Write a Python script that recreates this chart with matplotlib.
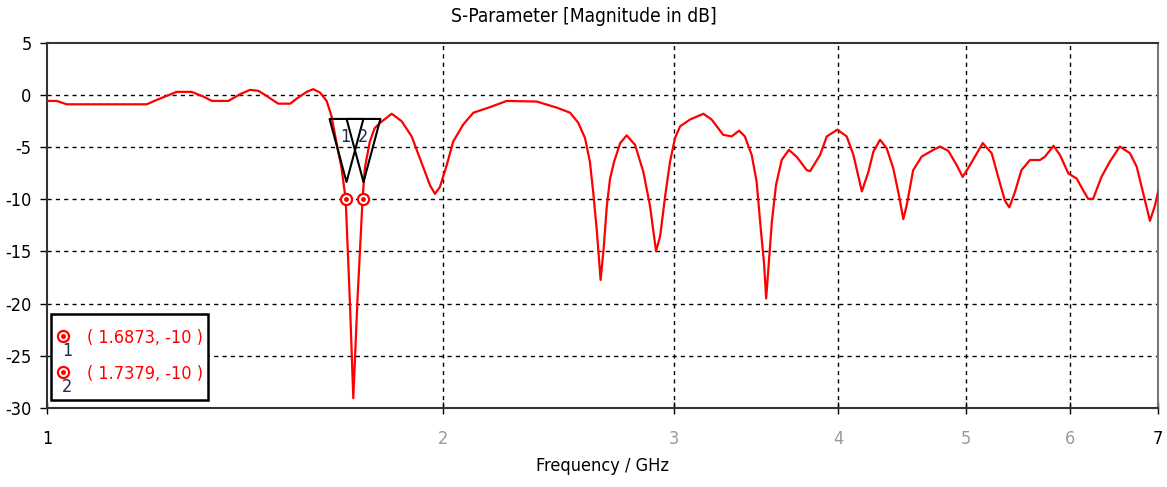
import matplotlib
matplotlib.use("Agg")
import matplotlib.pyplot as plt
from matplotlib.path import Path
from matplotlib.patches import Rectangle
from matplotlib.ticker import FixedLocator, NullLocator

## S11 magnitude vs frequency (GHz, dB)
freq = [1.000, 1.017, 1.035, 1.191, 1.212, 1.233, 1.255, 1.288, 1.315, 1.335,
        1.374, 1.402, 1.427, 1.448, 1.469, 1.499, 1.531, 1.549, 1.576, 1.594,
        1.613, 1.632, 1.646, 1.660, 1.675, 1.6873, 1.700, 1.710, 1.722, 1.7379,
        1.745, 1.760, 1.775, 1.792, 1.829, 1.861, 1.894, 1.928, 1.956, 1.973,
        1.990, 2.014, 2.037, 2.073, 2.110, 2.173, 2.237, 2.358, 2.442, 2.500,
        2.536, 2.566, 2.588, 2.603, 2.619, 2.637, 2.652, 2.666, 2.681, 2.700,
        2.729, 2.760, 2.801, 2.842, 2.875, 2.906, 2.927, 2.953, 2.978, 3.004,
        3.031, 3.084, 3.157, 3.203, 3.268, 3.317, 3.361, 3.395, 3.436, 3.466,
        3.491, 3.511, 3.524, 3.540, 3.559, 3.585, 3.621, 3.667, 3.717, 3.784,
        3.806, 3.873, 3.919, 3.992, 4.058, 4.106, 4.167, 4.215, 4.252, 4.302,
        4.352, 4.403, 4.447, 4.481, 4.507, 4.559, 4.627, 4.723, 4.778, 4.849,
        4.920, 4.972, 5.036, 5.150, 5.231, 5.291, 5.353, 5.395, 5.448, 5.511,
        5.594, 5.693, 5.743, 5.829, 5.896, 5.983, 6.071, 6.141, 6.194, 6.248,
        6.340, 6.433, 6.547, 6.664, 6.744, 6.822, 6.902, 6.963, 7.000]
s11 = [-0.58, -0.58, -0.90, -0.90, -0.48, -0.10, 0.29, 0.29, -0.16, -0.58,
       -0.58, 0.06, 0.48, 0.39, -0.10, -0.84, -0.84, -0.35, 0.29, 0.55,
       0.23, -0.58, -2.04, -4.5, -7.0, -10.0, -20.0, -29.06, -20.0, -10.0,
       -7.0, -4.5, -3.2, -2.68, -1.81, -2.52, -3.98, -6.56, -8.67, -9.48,
       -8.83, -6.73, -4.47, -2.84, -1.71, -1.17, -0.58, -0.64, -1.22, -1.71,
       -2.68, -4.14, -6.41, -9.32, -12.87, -17.73, -14.5, -10.61, -8.02, -6.41,
       -4.62, -3.88, -4.79, -7.38, -10.61, -14.98, -13.52, -9.64, -6.41, -4.14,
       -3.01, -2.36, -1.81, -2.36, -3.82, -3.98, -3.43, -3.98, -5.76, -8.35,
       -12.87, -16.12, -19.51, -16.12, -12.23, -8.67, -6.24, -5.27, -5.92, -7.21,
       -7.31, -5.76, -3.98, -3.33, -3.98, -5.76, -9.25, -7.38, -5.44, -4.30,
       -5.11, -7.05, -9.64, -11.9, -10.61, -7.21, -5.92, -5.27, -4.95, -5.37,
       -6.73, -7.86, -6.73, -4.62, -5.59, -7.86, -10.12, -10.78, -9.32, -7.21,
       -6.24, -6.24, -5.92, -4.88, -5.76, -7.53, -8.02, -9.16, -9.96, -9.96,
       -7.86, -6.41, -4.95, -5.59, -6.89, -9.48, -12.07, -10.61, -9.32]

## markers at the -10 dB crossings
mk_freq = [1.6873, 1.7379]
mk_val = [-10, -10]

xticks = [1, 2, 3, 4, 5, 6, 7]
yticks = [5, 0, -5, -10, -15, -20, -25, -30]

txt = dict(family='DejaVu Sans', fontstretch='condensed', fontsize=13)

fig = plt.figure(figsize=(11.67, 4.87), dpi=100)
ax = fig.add_axes([47/1167, 1 - 408/487, 1111/1167, (408 - 42.7)/487])

ax.plot(freq, s11, color='red', lw=1.6, zorder=3)

ax.set_xscale('log')
ax.set_xlim(1, 7)
ax.set_ylim(-30, 5)
ax.xaxis.set_major_locator(FixedLocator(xticks))
ax.xaxis.set_minor_locator(NullLocator())
ax.set_xticklabels([str(t) for t in xticks], **txt)
ax.set_yticks(yticks)
ax.set_yticklabels([str(t) for t in yticks], **txt)
for i, lab in enumerate(ax.get_xticklabels()):
    if 0 < i < len(xticks) - 1:
        lab.set_color('#999999')

ax.tick_params(axis='x', direction='inout', length=8, width=1, pad=12)
ax.tick_params(axis='y', direction='out', length=5, width=1, pad=6)

# dashed grid, skip the lines that sit on the frame
for t in xticks[1:-1]:
    ax.axvline(t, color='black', lw=1, ls=(0, (3, 3)), zorder=1)
for t in yticks[1:-1]:
    ax.axhline(t, color='black', lw=1, ls=(0, (3, 3)), zorder=1)

for side in ['left', 'bottom', 'top']:
    ax.spines[side].set_color('#333333')
    ax.spines[side].set_linewidth(1.5)
ax.spines['right'].set_color('#777777')
ax.spines['right'].set_linewidth(1.5)

# title sits on the figure centre, not the axes centre
ax.set_title('S-Parameter [Magnitude in dB]', pad=15, x=(583.5 - 47)/1111,
             **{**txt, 'fontsize': 13.8})
ax.set_xlabel('Frequency / GHz', labelpad=6, **txt)

# inverted triangle flags above each marker
tri = Path([(0, 0.217), (-0.21, 1), (0.21, 1), (0, 0.217)],
           [Path.MOVETO, Path.LINETO, Path.LINETO, Path.CLOSEPOLY])
for i, (f, v) in enumerate(zip(mk_freq, mk_val)):
    ax.plot(f, v, marker=tri, ms=116, mfc='none', mec='black', mew=1.5,
            ls='none', zorder=4)
    ax.plot(f, v, marker='o', ms=8, mfc='white', mec='red', mew=1.6,
            ls='none', zorder=5)
    ax.plot(f, v, marker='o', ms=2.5, color='red', ls='none', zorder=6)
    ax.annotate(str(i + 1), xy=(f, v), xytext=(0, 45), textcoords='offset points',
                ha='center', va='center', color='#1f2d4d', zorder=6, **txt)

# marker readout box
ax.add_patch(Rectangle((4/1111, 8/365), 157/1111, 86/365, transform=ax.transAxes,
                       fill=True, facecolor='white', edgecolor='black', lw=1.8,
                       zorder=7))
for i, (f, v) in enumerate(zip(mk_freq, mk_val)):
    yy = (408 - 336 - i * 35.7) / 365
    ax.plot(15.7/1111, yy, marker='o', ms=8, mfc='white', mec='red', mew=1.6,
            transform=ax.transAxes, zorder=8, clip_on=False)
    ax.plot(15.7/1111, yy, marker='o', ms=2.5, color='red',
            transform=ax.transAxes, zorder=9, clip_on=False)
    ax.text(20/1111, yy - 15/365, str(i + 1), transform=ax.transAxes,
            ha='center', va='center', color='#1f2d4d', zorder=9, **txt)
    ax.text(40/1111, yy - 2/365, '( %.4f, %d )' % (f, v), transform=ax.transAxes,
            ha='left', va='center', color='red', zorder=9, **txt)

fig.savefig('out.png', dpi=100)
